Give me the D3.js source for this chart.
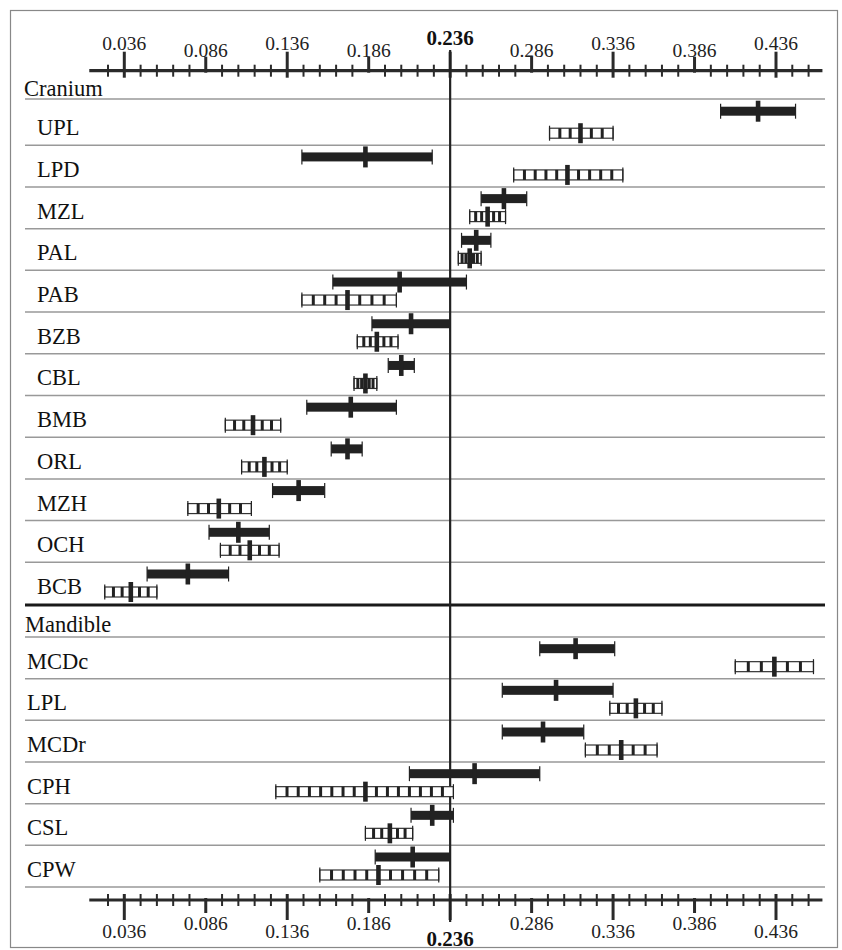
<!DOCTYPE html>
<html>
<head>
<meta charset="utf-8">
<script src="https://cdn.jsdelivr.net/npm/d3@7/dist/d3.min.js"></script>
<style>
  html, body { margin: 0; padding: 0; background: #fff; }
  svg { display: block; }
</style>
</head>
<body>
<script>
// ---------------- DATA ----------------
const crania = ["UPL","LPD","MZL","PAL","PAB","BZB","CBL","BMB","ORL","MZH","OCH","BCB"];
const mandibles = ["MCDc","LPL","MCDr","CPH","CSL","CPW"];
const sections = ["Cranium", "Mandible"];

// solid (black) interval: low, estimate, high
const solidLow  = [0.402,0.145,0.255,0.243,0.164,0.188,0.198,0.148,0.163,0.127,0.088,0.050, 0.291,0.268,0.268,0.211,0.212,0.190];
const solidMid  = [0.425,0.184,0.269,0.252,0.205,0.212,0.206,0.175,0.173,0.143,0.106,0.075, 0.313,0.301,0.293,0.251,0.225,0.213];
const solidHigh = [0.448,0.225,0.283,0.261,0.246,0.236,0.214,0.203,0.182,0.159,0.125,0.100, 0.337,0.336,0.318,0.291,0.238,0.236];
// hatched (ladder) interval: low, estimate, high
const hatchLow  = [0.297,0.275,0.248,0.241,0.145,0.179,0.177,0.098,0.108,0.075,0.095,0.024, 0.411,0.334,0.319,0.129,0.184,0.156];
const hatchMid  = [0.316,0.308,0.259,0.248,0.173,0.191,0.184,0.115,0.122,0.094,0.113,0.040, 0.435,0.350,0.341,0.184,0.199,0.192];
const hatchHigh = [0.336,0.342,0.270,0.255,0.203,0.204,0.191,0.132,0.136,0.114,0.131,0.056, 0.459,0.366,0.363,0.238,0.213,0.229];

const tickLabels = ["0.036","0.086","0.136","0.186","0.236","0.286","0.336","0.386","0.436"];
const refValue = 0.236;
const minorTicks = [0.026,0.036,0.046,0.056,0.066,0.076,0.086,0.096,0.106,0.116,0.126,0.136,0.146,0.156,0.166,0.176,0.186,0.196,0.206,0.216,0.226,0.236,0.246,0.256,0.266,0.276,0.286,0.296,0.306,0.316,0.326,0.336,0.346,0.356,0.366,0.376,0.386,0.396,0.406,0.416,0.426,0.436,0.446,0.456];

// ---------------- LAYOUT ----------------
const W = 842, H = 950;
const dark = "#222";
const FONT = "'Liberation Serif', 'Times New Roman', 'DejaVu Serif', serif";
const svg = d3.select("body").append("svg").attr("width", W).attr("height", H)
  .attr("font-family", FONT).style("font-family", FONT);
svg.append("rect").attr("width", W).attr("height", H).attr("fill", "#fff");
svg.append("rect").attr("x", 10.5).attr("y", 10.5).attr("width", 827).attr("height", 937)
   .attr("fill", "none").attr("stroke", "#888").attr("stroke-width", 1.2);

const x = d3.scaleLinear().domain([0.036, 0.436]).range([124.3, 776]);
const axisDomain = [0.0145, 0.4645];
const lineX0 = 25, lineX1 = 825;

const yCran = d3.scaleBand().domain(crania).range([103.5, 604]);
const yMand = d3.scaleBand().domain(mandibles).range([637, 887]);
const rows = crania.map((n, i) => ({name: n, i, scale: yCran, indent: 37}))
  .concat(mandibles.map((n, j) => ({name: n, i: crania.length + j, scale: yMand, indent: 27})));

// ---------------- GRID LINES ----------------
const gLines = svg.append("g");
const lineYs = [99].concat(crania.slice(0, -1).map(n => yCran(n) + yCran.bandwidth()))
  .concat([637]).concat(mandibles.map(n => yMand(n) + yMand.bandwidth()));
gLines.selectAll("line.row").data(lineYs).join("line")
  .attr("x1", lineX0).attr("x2", lineX1).attr("y1", d => d).attr("y2", d => d)
  .attr("stroke", "#999").attr("stroke-width", 1.5);
gLines.append("line").attr("x1", lineX0).attr("x2", lineX1).attr("y1", 605).attr("y2", 605)
  .attr("stroke", "#1a1a1a").attr("stroke-width", 3);

// section titles
svg.selectAll("text.sec").data(sections).join("text")
  .attr("font-family", FONT)
  .attr("x", (d, i) => i ? 25 : 24).attr("y", (d, i) => i ? 632 : 95.5)
  .attr("font-size", 22.5).attr("fill", "#111").text(d => d);

// row labels
svg.selectAll("text.row").data(rows).join("text")
  .attr("font-family", FONT)
  .attr("x", d => d.indent)
  .attr("y", d => d.scale(d.name) + d.scale.bandwidth() - 10)
  .attr("font-size", 22.5).attr("fill", "#111").text(d => d.name);

// ---------------- AXES ----------------
function drawAxis(yAxis, top) {
  const g = svg.append("g");
  g.append("line").attr("x1", x(axisDomain[0])).attr("x2", x(axisDomain[1]))
    .attr("y1", yAxis).attr("y2", yAxis).attr("stroke", "#2a2a2a").attr("stroke-width", 3.2);
  minorTicks.forEach(v => {
    const k = Math.round((v - 0.036) / 0.05 * 1000) / 1000;
    const isLab = Math.abs(k - Math.round(k)) < 1e-6;
    const kk = Math.round(k);
    let y1, y2, w;
    if (!isLab) { y1 = yAxis - 6; y2 = yAxis + 6; w = 2; }
    else if (kk % 2 === 0) { y1 = top ? yAxis - 19 : yAxis - 6; y2 = top ? yAxis + 7 : yAxis + 20; w = 3; }
    else { y1 = top ? yAxis - 14 : yAxis - 2; y2 = top ? yAxis + 2 : yAxis + 13; w = 3; }
    g.append("line").attr("x1", x(v)).attr("x2", x(v)).attr("y1", y1).attr("y2", y2)
      .attr("stroke", "#2a2a2a").attr("stroke-width", w);
  });
  tickLabels.forEach((t, i) => {
    const v = +t;
    const isRef = Math.abs(v - refValue) < 1e-9;
    let yb;
    if (isRef) yb = top ? 45 : 946;
    else if (i % 2 === 0) yb = top ? 50 : 938;
    else yb = top ? 56.5 : 930;
    g.append("text").attr("font-family", FONT).attr("x", x(v)).attr("y", yb).attr("text-anchor", "middle")
      .attr("font-size", isRef ? 21 : 19.5).attr("font-weight", isRef ? "bold" : "normal")
      .attr("fill", isRef ? "#111" : "#222").text(t);
  });
}
drawAxis(70.7, true);
drawAxis(900, false);

// reference line
svg.append("line").attr("x1", x(refValue)).attr("x2", x(refValue)).attr("y1", 50).attr("y2", 922)
  .attr("stroke", dark).attr("stroke-width", 2.2);

// ---------------- BARS ----------------
const gBars = svg.append("g");
rows.forEach(r => {
  const bottom = r.scale(r.name) + r.scale.bandwidth();
  const i = r.i;
  // solid
  const ys = bottom - (i === 0 ? 34 : 30);
  const a = x(solidLow[i]), b = x(solidHigh[i]), m = x(solidMid[i]);
  gBars.append("rect").attr("x", a).attr("y", ys - 4.5).attr("width", b - a).attr("height", 9).attr("fill", dark);
  [a, b].forEach(px => gBars.append("line").attr("x1", px).attr("x2", px).attr("y1", ys - 7.5).attr("y2", ys + 7.5)
    .attr("stroke", dark).attr("stroke-width", 1.2));
  gBars.append("rect").attr("x", m - 2.3).attr("y", ys - 10.5).attr("width", 4.6).attr("height", 21).attr("fill", dark);

  // hatched ladder
  const yh = bottom - 12;
  const ha = x(hatchLow[i]), hb = x(hatchHigh[i]), hm = x(hatchMid[i]);
  gBars.append("rect").attr("x", ha).attr("y", yh - 5).attr("width", hb - ha).attr("height", 10)
    .attr("fill", "#fff").attr("stroke", "#333").attr("stroke-width", 1.2);
  [[ha, hm], [hm, hb]].forEach(([p, q]) => {
    const half = q - p;
    const n = Math.max(3, Math.round(half / 11.5));
    for (let k = 1; k < n; k++) {
      const px = p + k * half / n;
      gBars.append("line").attr("x1", px).attr("x2", px).attr("y1", yh - 5).attr("y2", yh + 5)
        .attr("stroke", dark).attr("stroke-width", 3);
    }
  });
  [ha, hb].forEach(px => gBars.append("line").attr("x1", px).attr("x2", px).attr("y1", yh - 7.5).attr("y2", yh + 7.5)
    .attr("stroke", dark).attr("stroke-width", 1.2));
  gBars.append("rect").attr("x", hm - 2.3).attr("y", yh - 10).attr("width", 4.6).attr("height", 20).attr("fill", dark);
});
</script>
</body>
</html>
